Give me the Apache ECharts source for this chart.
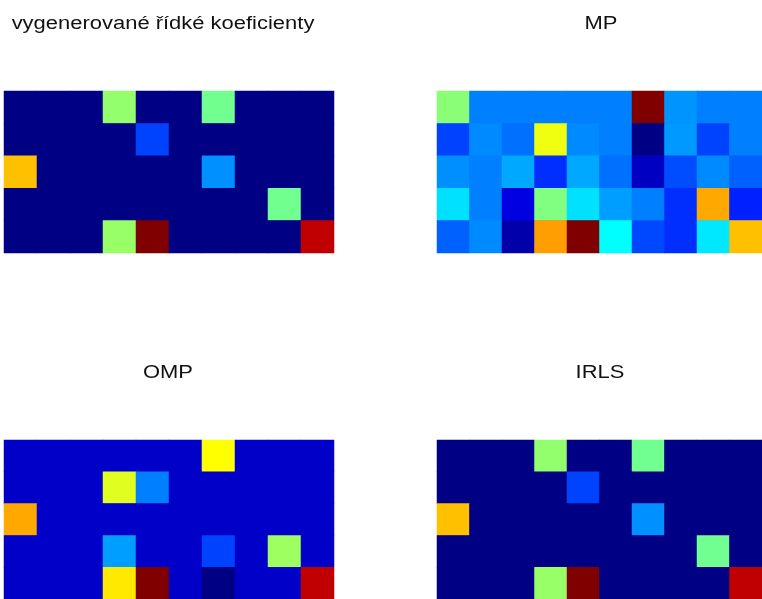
<!DOCTYPE html>
<html>
<head>
<meta charset="utf-8">
<script src="https://cdn.jsdelivr.net/npm/echarts@6/dist/echarts.min.js"></script>
<style>
  html, body { margin: 0; padding: 0; background: #fff; }
  #chart { width: 762px; height: 599px; }
</style>
</head>
<body>
<div id="chart"></div>
<script>
// colour position on the jet scale (0..1), rows top to bottom, 10 columns
var cols = ['1', '2', '3', '4', '5', '6', '7', '8', '9', '10']
var rows = ['1', '2', '3', '4', '5']
var titles = ['vygenerované řídké koeficienty', 'MP', 'OMP', 'IRLS']

var generated = [
    [0, 0, 0, 0.52, 0, 0, 0.485, 0, 0, 0],
    [0, 0, 0, 0, 0.19, 0, 0, 0, 0, 0],
    [0.6875, 0, 0, 0, 0, 0, 0.266, 0, 0, 0],
    [0, 0, 0, 0, 0, 0, 0, 0, 0.485, 0],
    [0, 0, 0, 0.525, 1.0, 0, 0, 0, 0, 0.9375]
]
var mp = [
    [0.51, 0.25, 0.25, 0.25, 0.25, 0.25, 1.0, 0.27, 0.25, 0.25],
    [0.19, 0.26, 0.235, 0.61, 0.26, 0.25, 0.0, 0.275, 0.19, 0.25],
    [0.265, 0.25, 0.29, 0.17, 0.29, 0.235, 0.0625, 0.2, 0.26, 0.22],
    [0.344, 0.25, 0.094, 0.5, 0.344, 0.28, 0.25, 0.17, 0.71, 0.156],
    [0.22, 0.26, 0.04, 0.72, 1.0, 0.375, 0.195, 0.17, 0.352, 0.6875]
]
var omp = [
    [0.07, 0.07, 0.07, 0.07, 0.07, 0.07, 0.625, 0.07, 0.07, 0.07],
    [0.07, 0.07, 0.07, 0.594, 0.25, 0.07, 0.07, 0.07, 0.07, 0.07],
    [0.71, 0.07, 0.07, 0.07, 0.07, 0.07, 0.07, 0.07, 0.07, 0.07],
    [0.07, 0.07, 0.07, 0.28, 0.07, 0.07, 0.19, 0.07, 0.53, 0.07],
    [0.07, 0.07, 0.07, 0.647, 1.0, 0.07, 0.0, 0.07, 0.07, 0.9375]
]
var irls = [
    [0, 0, 0, 0.52, 0, 0, 0.485, 0, 0, 0],
    [0, 0, 0, 0, 0.19, 0, 0, 0, 0, 0],
    [0.6875, 0, 0, 0, 0, 0, 0.266, 0, 0, 0],
    [0, 0, 0, 0, 0, 0, 0, 0, 0.485, 0],
    [0, 0, 0, 0.525, 1.0, 0, 0, 0, 0, 0.9375]
]

var jet = ['#000084', '#0000ff', '#0080ff', '#00ffff', '#80ff80', '#ffff00', '#ff8000', '#ff0000', '#800000']

function toCells(m) {
    var out = []
    for (var r = 0; r < m.length; r++) {
        for (var c = 0; c < m[r].length; c++) {
            out.push([c, r, m[r][c]])
        }
    }
    return out
}

var panels = [generated, mp, omp, irls]
var boxes = [
    { left: 4, top: 91 },
    { left: 437, top: 91 },
    { left: 4, top: 440 },
    { left: 437, top: 440 }
]
// background behind the cells, so the hairline seams between cells don't show white
var under = ['#000084', '#0078ff', '#0000c9', '#000084']
var titlePos = [[163, 24], [601, 24], [168, 373], [600, 373]]

var grids = [], xAxes = [], yAxes = [], series = [], texts = []
panels.forEach(function(m, i) {
    grids.push({
        left: boxes[i].left, top: boxes[i].top, width: 330, height: 162,
        show: true, backgroundColor: under[i], borderWidth: 0
    })
    xAxes.push({ type: 'category', data: cols, gridIndex: i, show: false })
    yAxes.push({ type: 'category', data: rows, gridIndex: i, show: false, inverse: true })
    series.push({
        type: 'heatmap',
        xAxisIndex: i,
        yAxisIndex: i,
        data: toCells(m),
        itemStyle: { borderWidth: 0 }
    })
    texts.push({
        type: 'text',
        x: titlePos[i][0],
        y: titlePos[i][1],
        scaleX: 1.22,
        style: {
            text: titles[i],
            fontFamily: 'Liberation Sans',
            fontSize: 18,
            fill: '#111',
            textAlign: 'center',
            textVerticalAlign: 'middle'
        }
    })
})

var chart = echarts.init(document.getElementById('chart'))
chart.setOption({
    animation: false,
    grid: grids,
    xAxis: xAxes,
    yAxis: yAxes,
    visualMap: {
        show: false,
        min: 0,
        max: 1,
        seriesIndex: [0, 1, 2, 3],
        inRange: { color: jet }
    },
    graphic: texts,
    series: series
})
</script>
</body>
</html>
